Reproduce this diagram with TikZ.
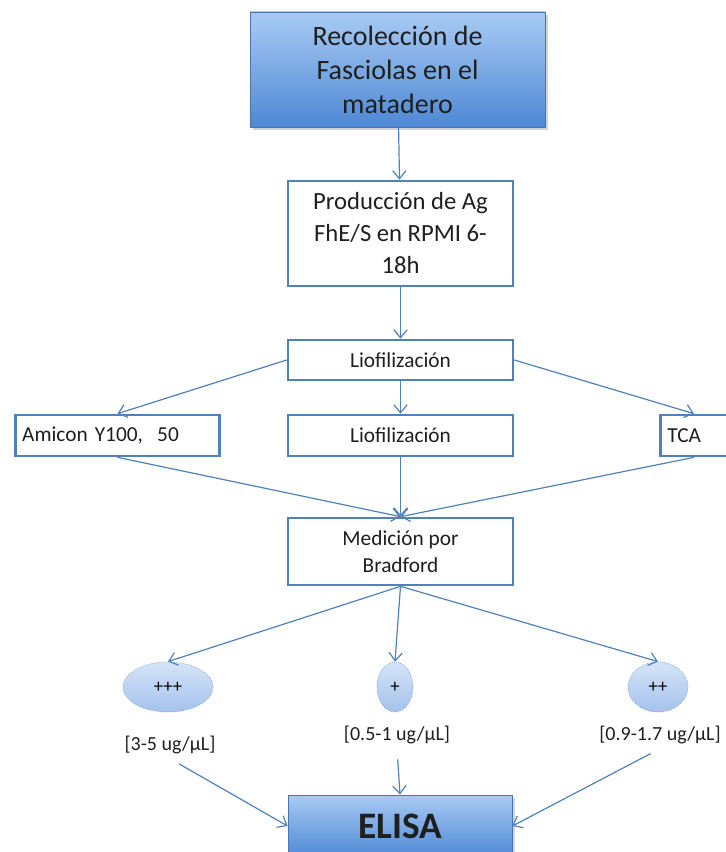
\documentclass[tikz,border=0pt]{standalone}
\usepackage{fontspec}
\setmainfont{Carlito}
\usetikzlibrary{arrows.meta,shapes.geometric,shadows}

\definecolor{lineblue}{RGB}{79,129,189}
\definecolor{boxtop}{RGB}{168,203,244}
\definecolor{boxbottom}{RGB}{78,136,212}
\definecolor{boxedge}{RGB}{70,118,180}
\definecolor{elltop}{RGB}{214,228,248}
\definecolor{ellbottom}{RGB}{164,194,236}

\begin{document}
\begin{tikzpicture}[
	x=0.75pt, y=-0.75pt,
	flow box/.style = {draw=lineblue, line width=2pt, fill=white, align=center, inner sep=2pt, text=black!88},
	wide box/.style = {flow box, minimum width=168.75pt},
	side box/.style = {flow box, minimum height=30.75pt, align=left, text width=#1, inner xsep=5pt},
	main box/.style = {draw=boxedge, line width=0.6pt, top color=boxtop, bottom color=boxbottom,
		align=center, text=black!88, drop shadow={shadow xshift=2pt, shadow yshift=-2.5pt, opacity=0.35}},
	level node/.style = {ellipse, draw=lineblue!70, densely dotted, line width=0.6pt, top color=elltop, bottom color=ellbottom,
		inner sep=0pt, minimum height=37.5pt, font=\fontsize{14}{16}\selectfont},
	range label/.style = {font=\fontsize{15}{17}\selectfont, text=black!88},
	edge/.style = {draw=lineblue, line width=0.9pt, -{Straight Barb[length=6pt, width=10pt]}},
]
	\useasboundingbox (0,0) rectangle (725,852);

	%% The main column
	\node [main box, minimum width=221.25pt, minimum height=86.25pt,
		font=\fontsize{21}{25.5}\selectfont] at (397.5,69.5) (top)
		{Recolección de\\Fasciolas en el\\matadero};
	\node [wide box, minimum height=78.75pt, font=\fontsize{18.5}{24}\selectfont] at (400.5,233.5) (prod)
		{Producción de Ag\\FhE/S en RPMI 6-\\18h};
	\node [wide box, minimum height=30pt, font=\fontsize{16}{19}\selectfont] at (400.5,360) (liof-1)
		{Liofilización};

	%% The row of three methods
	\node [side box=143pt, font=\fontsize{16}{19}\selectfont] at (117.5,435.5) (amicon)
		{Amicon Y100,\ \ 50};
	\node [wide box, minimum height=30.75pt, font=\fontsize{16}{19}\selectfont] at (400.5,435.5) (liof-2)
		{Liofilización};
	\node [side box=40pt, font=\fontsize{16}{19}\selectfont] at (694,435.5) (tca)
		{TCA};

	\node [wide box, minimum height=50.25pt, font=\fontsize{16}{20}\selectfont] at (400.5,551.5) (bradford)
		{Medición por\\Bradford};

	%% The three levels and their ranges
	\foreach \n/\x/\w/\t/\ly/\r in {%
		1/168/67.5/{+++}/745/{[3-5 ug/μL]},
		2/395/27/{+}/735/{[0.5-1 ug/μL]},
		3/658/45/{++}/735/{[0.9-1.7 ug/μL]}%
	}{%
		\node [level node, minimum width=\w pt] at (\x,687) (lvl-\n) {\t};
		\node [range label] at (\x+2,\ly) (rng-\n) {\r};
	}

	\node [main box, minimum width=168pt, minimum height=46.5pt,
		font=\bfseries\fontsize{28}{32}\selectfont] at (400,826) (elisa) {ELISA};

	%% Draw the connections
	\draw [edge] (top) -- (prod);
	\draw [edge] (prod) -- (liof-1);
	\draw [edge] (liof-1.west) -- (amicon.north);
	\draw [edge] (liof-1) -- (liof-2);
	\draw [edge] (liof-1.east) -- (tca.north);
	\foreach \u in {amicon, liof-2, tca}{%
		\draw [edge] (\u.south) -- (bradford.north);
	}
	\foreach \n in {1,2,3}{%
		\draw [edge] (bradford.south) -- (lvl-\n.north);
	}
	\draw [edge, shorten <=8pt] (rng-1.south) -- (elisa.west);
	\draw [edge, shorten <=8pt] (rng-2.south) -- (elisa.north);
	\draw [edge, shorten <=8pt] (rng-3.south) -- (elisa.east);

\end{tikzpicture}
\end{document}
